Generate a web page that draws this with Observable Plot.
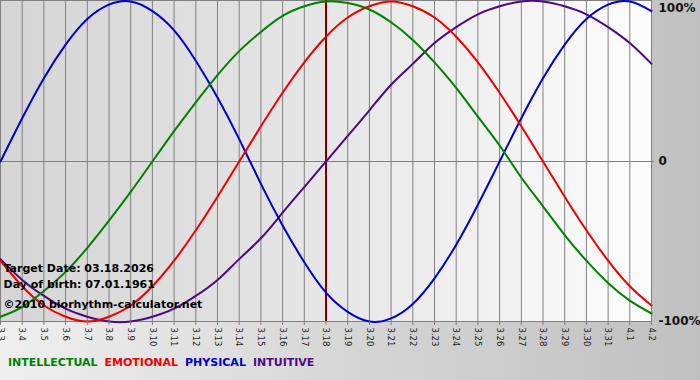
<!DOCTYPE html>
<html>
<head>
<meta charset="utf-8">
<script src="https://cdn.jsdelivr.net/npm/d3@7"></script>
<script src="https://cdn.jsdelivr.net/npm/@observablehq/plot@0.6"></script>
<style>
  html, body { margin: 0; padding: 0; }
  body {
    width: 700px; height: 380px; overflow: hidden;
    background: linear-gradient(to right, #efefef 0%, #d6d6d6 50%, #c0c0c0 100%);
    font-family: "DejaVu Sans", Verdana, sans-serif;
  }
  #legend { font-size: 11px; font-weight: bold; padding: 8px 0 0 8px; white-space: nowrap; }
  #legend span { margin-right: 7px; }
  svg { display: block; }
</style>
</head>
<body>
<div id="chart"></div>
<div id="legend"></div>
<script>
// ---- data ----
const dayLabels = ["3.3","3.4","3.5","3.6","3.7","3.8","3.9","3.10","3.11","3.12","3.13","3.14","3.15","3.16","3.17","3.18","3.19","3.20","3.21","3.22","3.23","3.24","3.25","3.26","3.27","3.28","3.29","3.30","3.31","4.1","4.2"];
const targetDay = "3.18";
const intellectual = [-0.97,-0.91,-0.81,-0.69,-0.54,-0.37,-0.19,0,0.19,0.37,0.54,0.69,0.81,0.91,0.97,1.00,0.99,0.95,0.87,0.76,0.62,0.46,0.28,0.10,-0.10,-0.28,-0.46,-0.62,-0.76,-0.87,-0.95];
const emotional = [-0.62,-0.78,-0.90,-0.97,-1.00,-0.97,-0.90,-0.78,-0.62,-0.43,-0.22,0,0.22,0.43,0.62,0.78,0.90,0.97,1.00,0.97,0.90,0.78,0.62,0.43,0.22,0,-0.22,-0.43,-0.62,-0.78,-0.90];
const physical = [0,0.27,0.52,0.73,0.89,0.98,1.00,0.94,0.82,0.63,0.40,0.14,-0.14,-0.40,-0.63,-0.82,-0.94,-1.00,-0.98,-0.89,-0.73,-0.52,-0.27,0,0.27,0.52,0.73,0.89,0.98,1.00,0.94];
const intuitive = [-0.61,-0.74,-0.84,-0.92,-0.97,-1.00,-1.00,-0.97,-0.92,-0.84,-0.74,-0.61,-0.48,-0.32,-0.16,0,0.16,0.32,0.48,0.61,0.74,0.84,0.92,0.97,1.00,1.00,0.97,0.92,0.84,0.74,0.61];
const seriesNames = ["INTUITIVE","PHYSICAL","EMOTIONAL","INTELLECTUAL"];
const seriesColors = {INTELLECTUAL:"#008000", EMOTIONAL:"#ee0000", PHYSICAL:"#0000cc", INTUITIVE:"#4b0a82"};
const legendOrder = ["INTELLECTUAL","EMOTIONAL","PHYSICAL","INTUITIVE"];
const yTicks = [-1, 0, 1];
const yTickLabels = {"-1":"-100%", "0":"0", "1":"100%"};
const infoLines = ["Target Date: 03.18.2026", "Day of birth: 07.01.1961", "©2010 biorhythm-calculator.net"];

// ---- build table ----
const valuesBySeries = {INTELLECTUAL: intellectual, EMOTIONAL: emotional, PHYSICAL: physical, INTUITIVE: intuitive};
const rows = [];
for (const name of seriesNames) {
  valuesBySeries[name].forEach((v, i) => rows.push({series: name, day: i, value: v}));
}
const dayIdx = dayLabels.map((_, i) => i);
const targetIdx = dayLabels.indexOf(targetDay);

const font = "DejaVu Sans, Verdana, sans-serif";
const plot = Plot.plot({
  width: 700,
  height: 348,
  marginLeft: 0,
  marginRight: 49,
  marginTop: 1,
  marginBottom: 27,
  style: {background: "transparent", fontFamily: font, overflow: "visible"},
  x: {domain: [0, dayLabels.length - 1], axis: null, label: null},
  y: {domain: [-1, 1], axis: null, label: null},
  marks: [
    Plot.frame({fill: "url(#plotbg)", stroke: null, insetTop: -1}),
    Plot.ruleX(dayIdx, {x: d => d, stroke: "#808080", strokeWidth: 1, insetTop: -1}),
    Plot.ruleY([0], {stroke: "#808080", strokeWidth: 1, insetRight: -3}),
    Plot.ruleY([1], {stroke: "#808080", strokeWidth: 1, dy: -1}),
    Plot.ruleY([-1], {stroke: "#808080", strokeWidth: 1}),
    Plot.ruleX([targetIdx], {stroke: "#800000", strokeWidth: 2, insetTop: -1}),
    Plot.line(rows, {x: "day", y: "value", z: "series", stroke: d => seriesColors[d.series], strokeWidth: 2, curve: "natural"}),
    Plot.axisX({ticks: dayIdx, tickFormat: i => dayLabels[i], tickRotate: 90, tickSize: 4, tickPadding: 2, label: null,
      stroke: "#808080", fill: "#222", fontSize: 8.5, fontFamily: font}),
    Plot.axisY({anchor: "right", ticks: yTicks.filter(t => t !== 1), tickFormat: t => yTickLabels[String(t)], tickSize: 0, tickPadding: 7, label: null,
      fontSize: 12, fontWeight: "bold", fill: "#111", fontFamily: font}),
    Plot.axisY({anchor: "right", ticks: yTicks.filter(t => t === 1), tickFormat: t => yTickLabels[String(t)], tickSize: 0, tickPadding: 7, dy: 7, label: null,
      fontSize: 12, fontWeight: "bold", fill: "#111", fontFamily: font}),
    Plot.text([infoLines[0]], {text: d => d, frameAnchor: "bottom-left", dx: 3, dy: -50, fontSize: 11, fontWeight: "bold", fill: "#000", fontFamily: font, textAnchor: "start"}),
    Plot.text([infoLines[1]], {text: d => d, frameAnchor: "bottom-left", dx: 3, dy: -34, fontSize: 11, fontWeight: "bold", fill: "#000", fontFamily: font, textAnchor: "start"}),
    Plot.text([infoLines[2]], {text: d => d, frameAnchor: "bottom-left", dx: 3, dy: -14, fontSize: 11, fontWeight: "bold", fill: "#000", fontFamily: font, textAnchor: "start"})
  ]
});

const ns = "http://www.w3.org/2000/svg";
const defs = document.createElementNS(ns, "defs");
defs.innerHTML = '<linearGradient id="plotbg" x1="0" x2="1" y1="0" y2="0">' +
  '<stop offset="0" stop-color="#d5d5d5"/><stop offset="0.5" stop-color="#e6e6e6"/><stop offset="1" stop-color="#fdfdfd"/></linearGradient>';
plot.prepend(defs);
document.getElementById("chart").appendChild(plot);

const legend = document.getElementById("legend");
for (const name of legendOrder) {
  const s = document.createElement("span");
  s.textContent = name;
  s.style.color = seriesColors[name];
  legend.appendChild(s);
}
</script>
</body>
</html>
